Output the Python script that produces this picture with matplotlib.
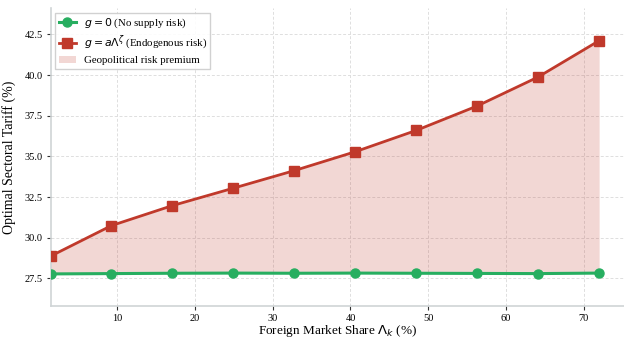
import numpy as np
import matplotlib.pyplot as plt

# foreign market share (%) and optimal tariffs (%)
share = [1.4, 9.24, 17.08, 24.92, 32.76, 40.6, 48.44, 56.28, 64.12, 72.0]
tariff_norisk = [27.78, 27.80, 27.82, 27.83, 27.82, 27.83, 27.82, 27.81, 27.80, 27.83]
tariff_endog = [28.87, 30.75, 31.98, 33.05, 34.13, 35.29, 36.60, 38.10, 39.88, 42.12]

plt.rcParams['font.family'] = ['Liberation Serif', 'DejaVu Serif']
plt.rcParams['mathtext.fontset'] = 'dejavusans'

green = '#27ae60'
red = '#c0392b'

fig, ax = plt.subplots(figsize=(6.24, 3.39), dpi=100)
fig.subplots_adjust(left=0.081, right=1.0, top=0.975, bottom=0.097)

ax.fill_between(share, tariff_norisk, tariff_endog, color=red, alpha=0.2,
                linewidth=0, label='Geopolitical risk premium')
ax.plot(share, tariff_norisk, '-o', color=green, lw=2.2, ms=6.5,
        label=r'$g=0$ (No supply risk)', zorder=3)
ax.plot(share, tariff_endog, '-s', color=red, lw=2.0, ms=6.5,
        label=r'$g=a\Lambda^{\zeta}$ (Endogenous risk)', zorder=3)

ax.set_xlim(share[0], 75.2)
ax.set_ylim(25.8, 44.1)
ax.set_yticks(np.arange(27.5, 43, 2.5))
ax.set_xticks([10, 20, 30, 40, 50, 60, 70])

ax.set_xlabel(r'Foreign Market Share $\Lambda_k$ (%)', fontsize=9.5, labelpad=0)
ax.set_ylabel('Optimal Sectoral Tariff (%)', fontsize=10, labelpad=6)
ax.tick_params(labelsize=7.5, length=3, width=0.8, color='#333333', pad=2.5)

ax.grid(True, linestyle=(0, (3, 2)), color='#dedede', linewidth=0.7)
ax.set_axisbelow(True)
for s in ['top', 'right']:
    ax.spines[s].set_visible(False)
for s in ['left', 'bottom']:
    ax.spines[s].set_color('#cfd4d6')
    ax.spines[s].set_linewidth(1.2)

handles, labels = ax.get_legend_handles_labels()
order = [1, 2, 0]
ax.legend([handles[i] for i in order], [labels[i] for i in order],
          loc='upper left', fontsize=7.8, framealpha=0.9, edgecolor='#cccccc',
          fancybox=False, borderpad=0.35, handlelength=1.6, handletextpad=0.7,
          labelspacing=0.35, borderaxespad=0.4)

fig.savefig('out.png', dpi=100)
